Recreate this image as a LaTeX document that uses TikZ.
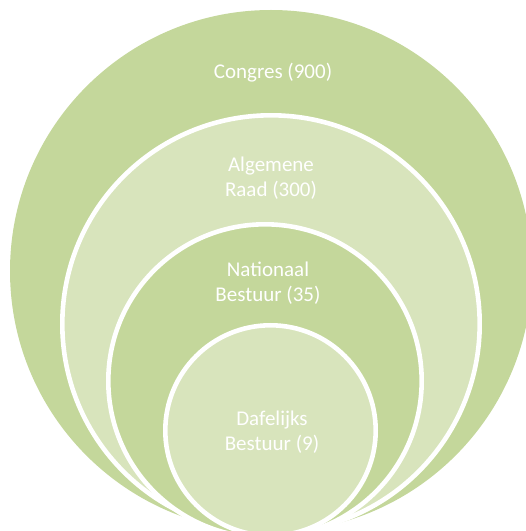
\documentclass[tikz,border=0pt]{standalone}
\usepackage{fontspec}
\setmainfont{Carlito}
\definecolor{gdark}{HTML}{C4D79B}
\definecolor{glight}{HTML}{D8E4BC}
\tikzset{
  ring/.style={draw=white, line width=4.6pt},
  lbl/.style={text=white, align=center, font=\fontsize{21}{25}\selectfont, inner sep=0pt}
}
\begin{document}
\begin{tikzpicture}[x=1pt,y=1pt]
\useasboundingbox (0,0) rectangle (526,531);
\clip (0,0) rectangle (526,531);
% circles (y measured from top: tikz y = 531 - y)
\fill[gdark] (271,260) circle (261);
\filldraw[glight, ring] (271,207) circle (208.7);
\filldraw[gdark, ring] (265,150) circle (156.7);
\filldraw[glight, ring] (270.5,100.5) circle (105.2);
\node[lbl] (congres) at (273,458) {Congres (900)};
\node[lbl] (raad) at (271,353) {Algemene\\Raad (300)};
\node[lbl] (nat) at (268,248) {Nationaal\\Bestuur (35)};
\node[lbl] (dag) at (272,99) {Dafelijks\\Bestuur (9)};
\end{tikzpicture}
\end{document}
